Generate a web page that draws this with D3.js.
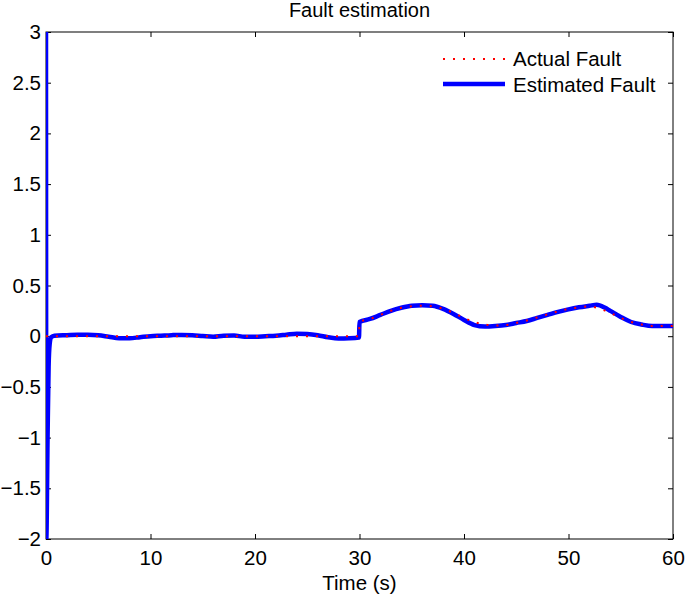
<!DOCTYPE html>
<html>
<head>
<meta charset="utf-8">
<script src="https://cdn.jsdelivr.net/npm/d3@7"></script>
<style>
  body { margin: 0; background: #fff; }
  svg { display: block; font-family: "Liberation Sans", Arial, Helvetica, sans-serif; }
</style>
</head>
<body>
<svg id="chart"></svg>
<script>
// time samples + values
var estTime = [0, 0.03, 0.15, 0.25, 0.35, 0.5, 0.8, 2, 3, 4, 5, 6, 7, 8, 9, 10, 11, 12, 13, 14, 15, 16, 17, 18, 19, 20, 21, 22, 23, 24, 25, 26, 27, 28, 29, 29.95,
  30, 31, 32, 33, 34, 35, 36, 37, 38, 39, 40, 41, 42, 43, 44, 45, 46, 47, 48, 49, 50, 51, 52, 52.7, 53.5, 54, 55, 56, 57, 58, 59, 60]
var estFault = [3, -2, -1, -0.3, -0.08, -0.01, 0.005, 0.01, 0.014, 0.015, 0.01, -0.005, -0.02, -0.02, -0.01, 0, 0.005, 0.01, 0.013, 0.01, 0.002, -0.005, 0.005, 0.006, -0.005, -0.005, 0, 0.005, 0.015, 0.025, 0.022, 0.01, -0.01, -0.022, -0.02, -0.013,
  0.14, 0.17, 0.21, 0.25, 0.28, 0.3, 0.305, 0.3, 0.27, 0.22, 0.16, 0.11, 0.095, 0.1, 0.11, 0.13, 0.15, 0.18, 0.21, 0.24, 0.265, 0.285, 0.3, 0.31, 0.28, 0.25, 0.19, 0.14, 0.115, 0.1, 0.1, 0.1]

var actTime = [0, 29.95, 30, 31, 32, 33, 34, 35, 36, 37, 38, 39, 40, 41, 42, 43, 44, 45, 46, 47, 48, 49, 50, 51, 52, 53, 54, 55, 56, 57, 58, 59, 60]
var actFault = [0, 0, 0.14, 0.17, 0.21, 0.25, 0.28, 0.295, 0.3, 0.295, 0.27, 0.23, 0.18, 0.14, 0.115, 0.105, 0.11, 0.13, 0.155, 0.185, 0.215, 0.245, 0.27, 0.285, 0.295, 0.27, 0.23, 0.18, 0.14, 0.115, 0.1, 0.1, 0.1]

var xTicks = [0, 10, 20, 30, 40, 50, 60]
var yTicks = [-2, -1.5, -1, -0.5, 0, 0.5, 1, 1.5, 2, 2.5, 3]
var legendLabels = ["Actual Fault", "Estimated Fault"]

var width = 685, height = 594
var margin = { top: 32, right: 12, bottom: 55, left: 46 }
var w = width - margin.left - margin.right
var h = height - margin.top - margin.bottom
var fontSize = 20.5

var svg = d3.select('#chart').attr('width', width).attr('height', height)

var x = d3.scaleLinear().domain([0, 60]).range([0, w])
var y = d3.scaleLinear().domain([-2, 3]).range([h, 0])

var g = svg.append('g').attr('transform', 'translate(' + margin.left + ',' + margin.top + ')')

g.append('clipPath').attr('id', 'clip')
  .append('rect').attr('width', w).attr('height', h)

// axes, matlab style: ticks pointing in, on all four sides
var tickLen = 5
function styleAxis(sel) {
  sel.selectAll('.domain').remove()
  sel.selectAll('line').attr('stroke', '#000').attr('stroke-width', 1)
  sel.selectAll('text').attr('font-size', fontSize).attr('fill', '#000')
}

g.append('g').attr('transform', 'translate(0,' + h + ')')
  .call(d3.axisBottom(x).tickValues(xTicks).tickSize(-tickLen).tickPadding(11).tickFormat(d3.format('d')))
  .call(styleAxis)
g.append('g')
  .call(d3.axisTop(x).tickValues(xTicks).tickSize(-tickLen).tickFormat(''))
  .call(styleAxis)
g.append('g')
  .call(d3.axisLeft(y).tickValues(yTicks).tickSize(-tickLen).tickPadding(5).tickFormat(d3.format('')))
  .call(styleAxis)
g.append('g').attr('transform', 'translate(' + w + ',0)')
  .call(d3.axisRight(y).tickValues(yTicks).tickSize(-tickLen).tickFormat(''))
  .call(styleAxis)

g.append('rect').attr('width', w).attr('height', h)
  .attr('fill', 'none').attr('stroke', '#000').attr('stroke-width', 1)

var line = d3.line()
  .x(function (d) { return x(d[0]) })
  .y(function (d) { return y(d[1]) })
  .curve(d3.curveMonotoneX)

var plot = g.append('g').attr('clip-path', 'url(#clip)')

plot.append('path')
  .datum(d3.zip(estTime, estFault))
  .attr('d', line)
  .attr('fill', 'none').attr('stroke', '#0000ff').attr('stroke-width', 4.5)
  .attr('stroke-linejoin', 'round')

plot.append('path')
  .datum(d3.zip(actTime, actFault))
  .attr('d', line)
  .attr('fill', 'none').attr('stroke', '#ff0000').attr('stroke-width', 2)
  .attr('stroke-dasharray', '2,8')

// title and x label
svg.append('text')
  .attr('x', margin.left + w / 2).attr('y', 17)
  .attr('text-anchor', 'middle').attr('font-size', 20)
  .text('Fault estimation')
svg.append('text')
  .attr('x', margin.left + w / 2).attr('y', 590)
  .attr('text-anchor', 'middle').attr('font-size', fontSize)
  .text('Time (s)')

// legend
var legend = svg.append('g').attr('transform', 'translate(443,59)')
legend.append('line')
  .attr('x1', 0).attr('x2', 62).attr('y1', 0).attr('y2', 0)
  .attr('stroke', '#ff0000').attr('stroke-width', 2).attr('stroke-dasharray', '2,8')
legend.append('line')
  .attr('x1', 0).attr('x2', 62).attr('y1', 25).attr('y2', 25)
  .attr('stroke', '#0000ff').attr('stroke-width', 4.5)
legend.selectAll('text').data(legendLabels).enter().append('text')
  .attr('x', 70).attr('y', function (d, i) { return 7 + i * 26 })
  .attr('font-size', fontSize)
  .text(function (d) { return d })
</script>
</body>
</html>
